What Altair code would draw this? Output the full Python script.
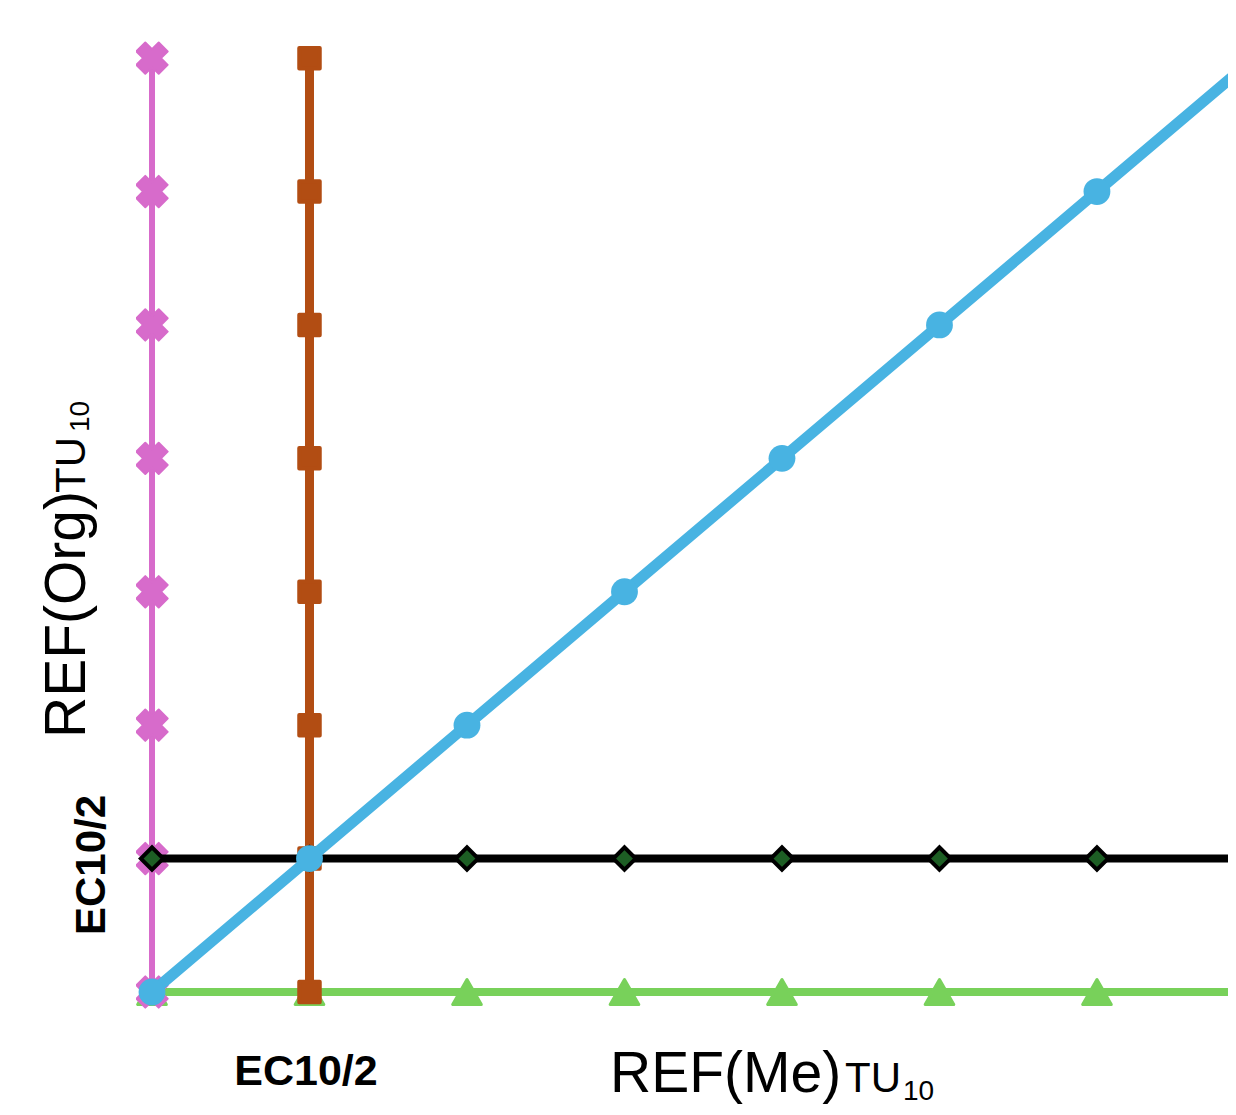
import altair as alt
import pandas as pd

# ---- data ----
green_x = [0, 1, 2, 3, 4, 5, 6, 7]
green_y = [0, 0, 0, 0, 0, 0, 0, 0]

pink_x = [0, 0, 0, 0, 0, 0, 0, 0]
pink_y = [0, 1, 2, 3, 4, 5, 6, 7]

brown_x = [1, 1, 1, 1, 1, 1, 1, 1]
brown_y = [0, 1, 2, 3, 4, 5, 6, 7]

black_x = [0, 1, 2, 3, 4, 5, 6, 7]
black_y = [1, 1, 1, 1, 1, 1, 1, 1]

blue_x = [0, 1, 2, 3, 4, 5, 6, 7]
blue_y = [0, 1, 2, 3, 4, 5, 6, 7]

tick_label = "EC10/2"
x_title_main, x_title_small, x_title_sub = "REF(Me)", "TU", "10"
y_title_main, y_title_small, y_title_sub = "REF(Org)", "TU", "10"

FONT = "Liberation Sans"
W, H = 1092, 970

xs = alt.Scale(domain=[-0.1016, 6.832], nice=False, zero=False)
ys = alt.Scale(domain=[-0.135, 7.136], nice=False, zero=False)


def series(xv, yv):
    return pd.DataFrame({"x": xv, "y": yv})


def line(df, color, width):
    return alt.Chart(df).mark_line(color=color, strokeWidth=width, clip=True).encode(
        x=alt.X("x:Q", scale=xs, axis=None),
        y=alt.Y("y:Q", scale=ys, axis=None),
        order=alt.Order("y:Q"),
    )


def pts(df, **kw):
    return alt.Chart(df).mark_point(filled=True, clip=True, **kw).encode(
        x=alt.X("x:Q", scale=xs, axis=None),
        y=alt.Y("y:Q", scale=ys, axis=None),
    )


green = series(green_x, green_y)
pink = series(pink_x, pink_y)
brown = series(brown_x, brown_y)
black = series(black_x, black_y)
blue = series(blue_x, blue_y)

layers = [
    line(green, "#78D15A", 8),
    pts(green, shape="triangle-up", size=820, color="#78D15A", stroke="#78D15A",
        strokeWidth=3, strokeJoin="round", opacity=1),
    line(pink, "#D76BCB", 6),
    pts(pink, shape="cross", angle=45, size=1000, color="#D76BCB", stroke="#D76BCB",
        strokeWidth=2, strokeJoin="round", opacity=1),
    line(brown, "#B24D13", 9),
    pts(brown, shape="square", size=420, color="#B24D13", stroke="#B24D13",
        strokeWidth=4, strokeJoin="round", opacity=1),
    line(black, "#000000", 8),
    pts(black, shape="diamond", size=500, color="#1D5E24", stroke="#000000",
        strokeWidth=4, opacity=1),
    line(blue, "#48B3E2", 11),
    pts(blue, shape="circle", size=720, color="#48B3E2", opacity=1),
]


def txt(s, x, y, size, bold=False, angle=0, align="left", baseline="alphabetic"):
    kw = dict(font=FONT, fontSize=size, color="#000000", align=align, baseline=baseline)
    if bold:
        kw["fontWeight"] = "bold"
    if angle:
        kw["angle"] = angle
    return alt.Chart(pd.DataFrame({"t": [s]})).mark_text(**kw).encode(
        x=alt.value(x), y=alt.value(y), text="t:N"
    )


texts = [
    # tick-like labels
    txt(tick_label, 170, 1045, 43, bold=True, align="center"),
    txt(tick_label, -31, 825, 42, bold=True, angle=270, align="center"),
    # x title
    txt(x_title_main, 474, 1052, 57),
    txt(x_title_small, 709, 1052, 42),
    txt(x_title_sub, 767, 1060, 28),
    # y title
    txt(y_title_main, -51, 698, 57, angle=270),
    txt(y_title_small, -51, 453, 42, angle=270),
    txt(y_title_sub, -47, 392, 28, angle=270),
]

chart = alt.layer(*layers, *texts).properties(
    width=W,
    height=H,
    padding={"left": 128, "top": 32, "right": 0, "bottom": 97},
    autosize=alt.AutoSizeParams(type="none"),
).configure_view(stroke=None)

chart.save("out.html", embed_options={"renderer": "svg", "actions": False})
